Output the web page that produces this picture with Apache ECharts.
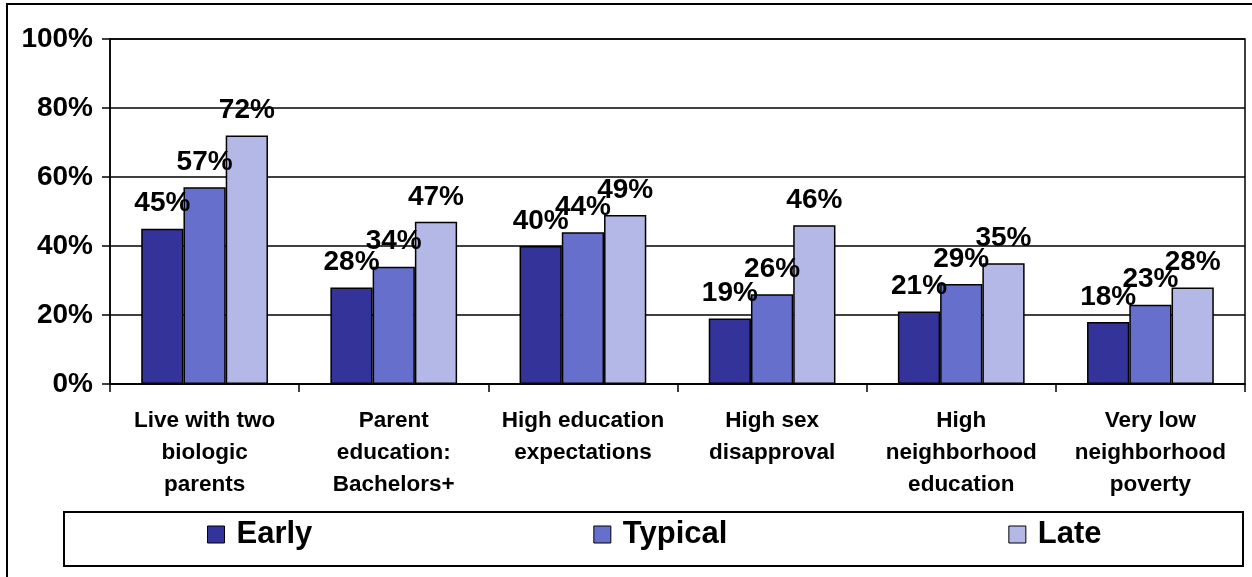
<!DOCTYPE html>
<html>
<head>
<meta charset="utf-8">
<script src="https://cdn.jsdelivr.net/npm/echarts@6/dist/echarts.min.js"></script>
<style>
  html, body { margin: 0; padding: 0; background: #fff; }
  #main { width: 1252px; height: 577px; }
</style>
</head>
<body>
<div id="main"></div>
<script>
var categories = [
	'Live with two\nbiologic\nparents',
	'Parent\neducation:\nBachelors+',
	'High education\nexpectations',
	'High sex\ndisapproval',
	'High\nneighborhood\neducation',
	'Very low\nneighborhood\npoverty'
];
var seriesNames = ['Early', 'Typical', 'Late'];
var earlyData = [45, 28, 40, 19, 21, 18];
var typicalData = [57, 34, 44, 26, 29, 23];
var lateData = [72, 47, 49, 46, 35, 28];
var yTicks = [0, 20, 40, 60, 80, 100];

var colors = ['#333399', '#6670CC', '#B4B8E6'];
var font = "'Liberation Sans', Arial, sans-serif";

var myChart = echarts.init(document.getElementById('main'));

var makeSeries = function(name, data, color) {
	return {
		name: name,
		type: 'bar',
		data: data,
		barGap: '0%',
		barCategoryGap: '33%',
		itemStyle: {
			color: color,
			borderColor: '#000',
			borderWidth: 1.5
		},
		label: {
			show: true,
			position: 'top',
			distance: 11,
			formatter: '{c}%',
			color: '#000',
			fontFamily: font,
			fontWeight: 'bold',
			fontSize: 28
		}
	};
};

var option = {
	animation: false,
	color: colors,
	grid: {
		left: 110,
		top: 39,
		right: 7,
		bottom: 193,
		show: true,
		borderColor: '#000',
		borderWidth: 1.5
	},
	legend: {
		data: seriesNames,
		left: 207,
		top: 519,
		padding: 0,
		icon: 'rect',
		itemWidth: 17,
		itemHeight: 17,
		itemGap: 281,
		itemStyle: {
			borderColor: '#000',
			borderWidth: 1
		},
		textStyle: {
			color: '#000',
			fontFamily: font,
			fontWeight: 'bold',
			fontSize: 31,
			padding: [0, 0, 0, 7]
		}
	},
	xAxis: {
		type: 'category',
		data: categories,
		axisLine: { show: true, lineStyle: { color: '#000', width: 1.5 } },
		axisTick: { show: true, length: 8, lineStyle: { color: '#000', width: 1.5 } },
		axisLabel: {
			interval: 0,
			margin: 21,
			color: '#000',
			fontFamily: font,
			fontWeight: 'bold',
			fontSize: 22.5,
			lineHeight: 32
		}
	},
	yAxis: {
		type: 'value',
		min: yTicks[0],
		max: yTicks[yTicks.length - 1],
		interval: 20,
		axisLine: { show: true, lineStyle: { color: '#000', width: 1.5 } },
		axisTick: { show: true, length: 8, lineStyle: { color: '#000', width: 1.5 } },
		splitLine: { show: true, lineStyle: { color: '#000', width: 1.5 } },
		axisLabel: {
			margin: 17,
			formatter: '{value}%',
			color: '#000',
			fontFamily: font,
			fontWeight: 'bold',
			fontSize: 28
		}
	},
	graphic: [
		{
			// outer frame
			type: 'rect',
			shape: { x: 7, y: 4, width: 1270, height: 600 },
			style: { fill: 'none', stroke: '#000', lineWidth: 2 },
			silent: true
		},
		{
			// legend box
			type: 'rect',
			shape: { x: 64, y: 512, width: 1179, height: 54 },
			style: { fill: 'none', stroke: '#000', lineWidth: 2 },
			silent: true
		}
	],
	series: [
		makeSeries(seriesNames[0], earlyData, colors[0]),
		makeSeries(seriesNames[1], typicalData, colors[1]),
		makeSeries(seriesNames[2], lateData, colors[2])
	]
};

myChart.setOption(option);
</script>
</body>
</html>
